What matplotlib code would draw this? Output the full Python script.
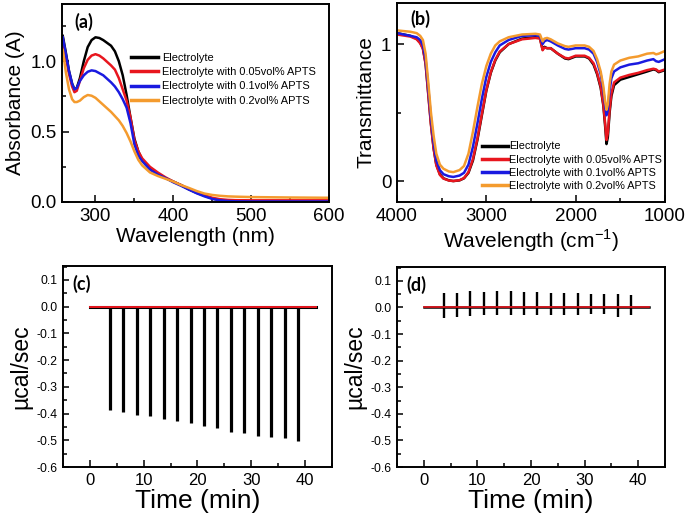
import matplotlib
matplotlib.use("Agg")
import matplotlib.pyplot as plt
from matplotlib.ticker import MultipleLocator, FixedLocator

plt.rcParams['font.family'] = ['Liberation Sans', 'DejaVu Sans']

# ---------------- data ----------------
series_labels = ["Electrolyte", "Electrolyte with 0.05vol% APTS",
                 "Electrolyte with 0.1vol% APTS", "Electrolyte with 0.2vol% APTS"]
series_colors = ["#000000", "#e8161e", "#1a1ae0", "#f49b2e"]

# (a) UV-vis absorbance
wl = [258, 262, 266, 270, 273, 276, 280, 285, 290, 295, 300, 305, 310, 320, 325, 330,
      335, 340, 345, 350, 355, 360, 370, 380, 390, 400, 410, 420, 430, 440, 450, 460,
      470, 480, 500, 550, 600]
abs_black = [1.18, 1.06, 0.93, 0.84, 0.80, 0.81, 0.88, 1.00, 1.10, 1.15, 1.17, 1.165, 1.15,
             1.11, 1.07, 1.00, 0.90, 0.76, 0.60, 0.45, 0.36, 0.30, 0.235, 0.20, 0.17, 0.145,
             0.12, 0.09, 0.065, 0.045, 0.025, 0.012, 0.005, 0.0, 0.0, 0.0, 0.0]
abs_red = [1.15, 1.03, 0.91, 0.82, 0.78, 0.79, 0.86, 0.95, 1.01, 1.04, 1.05, 1.04, 1.02,
           0.97, 0.94, 0.88, 0.80, 0.72, 0.60, 0.44, 0.36, 0.31, 0.25, 0.21, 0.175, 0.145,
           0.12, 0.093, 0.068, 0.047, 0.03, 0.02, 0.015, 0.013, 0.012, 0.012, 0.012]
abs_blue = [1.17, 1.05, 0.93, 0.84, 0.80, 0.81, 0.86, 0.90, 0.925, 0.935, 0.93, 0.915, 0.90,
            0.85, 0.82, 0.78, 0.73, 0.67, 0.56, 0.41, 0.33, 0.29, 0.23, 0.195, 0.17, 0.14,
            0.115, 0.088, 0.062, 0.04, 0.022, 0.012, 0.007, 0.005, 0.004, 0.004, 0.004]
abs_orange = [1.08, 0.92, 0.80, 0.73, 0.71, 0.71, 0.72, 0.745, 0.76, 0.755, 0.74, 0.715, 0.69,
              0.64, 0.61, 0.58, 0.54, 0.49, 0.43, 0.36, 0.30, 0.26, 0.21, 0.185, 0.165, 0.145,
              0.12, 0.10, 0.078, 0.06, 0.05, 0.044, 0.04, 0.038, 0.035, 0.032, 0.03]

# (b) FTIR transmittance
wn = [4000, 3850, 3780, 3740, 3710, 3680, 3650, 3620, 3590, 3560, 3520, 3480, 3420, 3370,
      3300, 3250, 3200, 3150, 3100, 3050, 3000, 2950, 2900, 2850, 2750, 2600, 2450, 2400,
      2370, 2350, 2320, 2280, 2200, 2120, 2080, 2000, 1900, 1850, 1800, 1760, 1720, 1690,
      1670, 1655, 1640, 1620, 1600, 1570, 1500, 1400, 1300, 1200, 1130, 1100, 1070, 1000]
tr_black = [1.08, 1.06, 1.04, 1.01, 0.97, 0.86, 0.64, 0.42, 0.24, 0.12, 0.05, 0.02, 0.005, 0.0,
            0.005, 0.02, 0.06, 0.15, 0.30, 0.48, 0.66, 0.79, 0.88, 0.94, 1.00, 1.04, 1.05, 1.045,
            0.96, 0.98, 0.97, 0.97, 0.93, 0.895, 0.89, 0.91, 0.91, 0.895, 0.85, 0.78, 0.68, 0.55,
            0.40, 0.27, 0.32, 0.50, 0.62, 0.70, 0.74, 0.76, 0.78, 0.80, 0.815, 0.81, 0.795, 0.81]
tr_red = [1.07, 1.055, 1.035, 1.005, 0.965, 0.855, 0.63, 0.41, 0.235, 0.115, 0.045, 0.018, 0.004, 0.0,
          0.006, 0.022, 0.065, 0.16, 0.31, 0.49, 0.665, 0.795, 0.885, 0.945, 1.0, 1.035, 1.045, 1.04,
          0.955, 0.975, 0.97, 0.97, 0.93, 0.9, 0.895, 0.915, 0.915, 0.9, 0.86, 0.79, 0.69, 0.56,
          0.42, 0.30, 0.35, 0.52, 0.64, 0.72, 0.755, 0.775, 0.79, 0.81, 0.82, 0.815, 0.80, 0.815]
tr_blue = [1.08, 1.06, 1.05, 1.03, 0.99, 0.89, 0.68, 0.46, 0.28, 0.15, 0.08, 0.05, 0.035, 0.03,
           0.04, 0.06, 0.12, 0.25, 0.42, 0.60, 0.76, 0.87, 0.94, 0.99, 1.03, 1.06, 1.065, 1.06,
           1.00, 1.02, 1.03, 1.02, 0.99, 0.965, 0.96, 0.97, 0.97, 0.96, 0.93, 0.87, 0.78, 0.66,
           0.55, 0.48, 0.52, 0.66, 0.75, 0.80, 0.83, 0.85, 0.86, 0.88, 0.89, 0.875, 0.87, 0.89]
tr_orange = [1.10, 1.09, 1.08, 1.06, 1.03, 0.93, 0.72, 0.50, 0.33, 0.20, 0.12, 0.09, 0.07, 0.065,
             0.08, 0.11, 0.20, 0.36, 0.54, 0.71, 0.84, 0.93, 0.99, 1.02, 1.05, 1.07, 1.075, 1.07,
             1.02, 1.04, 1.045, 1.035, 1.005, 0.985, 0.98, 0.99, 0.99, 0.98, 0.95, 0.89, 0.80, 0.69,
             0.58, 0.52, 0.56, 0.71, 0.80, 0.85, 0.88, 0.90, 0.91, 0.93, 0.935, 0.925, 0.93, 0.95]

# (c), (d) ITC injections
inj_times = [3.7, 6.2, 8.7, 11.2, 13.7, 16.2, 18.7, 21.2, 23.7, 26.2, 28.7, 31.2, 33.7, 36.2, 38.7]
peaks_c = [-0.385, -0.394, -0.404, -0.410, -0.420, -0.428, -0.437, -0.447, -0.455, -0.468,
           -0.473, -0.484, -0.488, -0.493, -0.502]
tops_d = [0.055, 0.056, 0.062, 0.059, 0.061, 0.061, 0.057, 0.058, 0.056, 0.055, 0.053, 0.052,
          0.049, 0.049, 0.048]
bottoms_d = [-0.040, -0.035, -0.032, -0.030, -0.030, -0.030, -0.030, -0.028, -0.027, -0.027,
             -0.030, -0.025, -0.025, -0.035, -0.030]
baseline_t = [0, 42]
baseline_v = [0, 0]

# ---------------- figure ----------------
W, H = 685, 522
fig = plt.figure(figsize=(W / 100, H / 100), dpi=100)


def ax_px(l, t, r, b):
    return fig.add_axes([l / W, 1 - b / H, (r - l) / W, (b - t) / H])


def style(ax, lab_size):
    for s in ax.spines.values():
        s.set_linewidth(1.4)
    ax.tick_params(which='both', direction='in', top=False, right=False, width=1.1,
                   labelsize=lab_size, pad=4)
    ax.tick_params(which='major', length=5)
    ax.tick_params(which='minor', length=3)


panel_font = dict(family=['Lato', 'DejaVu Sans'], fontweight='bold', fontsize=13)

# (a)
axa = ax_px(62, 3.5, 329, 202)
for y, c, lab in zip([abs_black, abs_red, abs_blue, abs_orange], series_colors, series_labels):
    axa.plot(wl, y, color=c, lw=1.8, label=lab)
axa.set_xlim(257, 600)
axa.set_ylim(0, 1.41)
axa.xaxis.set_major_locator(MultipleLocator(100))
axa.xaxis.set_minor_locator(MultipleLocator(50))
axa.yaxis.set_major_locator(MultipleLocator(0.5))
axa.yaxis.set_minor_locator(MultipleLocator(0.25))
axa.yaxis.set_major_formatter(matplotlib.ticker.FormatStrFormatter('%.1f'))
style(axa, 13.5)
axa.set_xlabel("Wavelength (nm)", fontsize=15, labelpad=2)
axa.set_ylabel("Absorbance (A)", fontsize=15, labelpad=4)
axa.text(0.045, 0.955, "(a)", transform=axa.transAxes, va='top', ha='left', **panel_font)
axa.legend(loc='upper left', bbox_to_anchor=(0.258, 0.75), frameon=False, fontsize=7.9,
           handlelength=2.5, handletextpad=0.35, labelspacing=0.38, borderpad=0, borderaxespad=0)
for lh in axa.get_legend().get_lines():
    lh.set_linewidth(2.5)

# (b)
axb = ax_px(397, 3, 665, 202)
for y, c, lab in zip([tr_black, tr_red, tr_blue, tr_orange], series_colors, series_labels):
    axb.plot(wn, y, color=c, lw=1.8, label=lab)
axb.set_xlim(4000, 1000)
axb.set_ylim(-0.153, 1.30)
axb.xaxis.set_major_locator(MultipleLocator(1000))
axb.xaxis.set_minor_locator(MultipleLocator(500))
axb.yaxis.set_major_locator(FixedLocator([0, 1]))
axb.yaxis.set_minor_locator(FixedLocator([0.5]))
style(axb, 13.5)
axb.set_xlabel("Wavelength (cm$^{\\mathregular{-1}}$)", fontsize=15, labelpad=2)
axb.set_ylabel("Transmittance", fontsize=15, labelpad=4)
axb.text(0.05, 0.965, "(b)", transform=axb.transAxes, va='top', ha='left', **panel_font)
axb.legend(loc='upper left', bbox_to_anchor=(0.317, 0.305), frameon=False, fontsize=7.8,
           handlelength=2.4, handletextpad=0.1, labelspacing=0.3, borderpad=0, borderaxespad=0)
for lh in axb.get_legend().get_lines():
    lh.set_linewidth(2.5)


def itc(ax, label):
    ax.set_xlim(-5, 45)
    ax.set_ylim(-0.6, 0.152)
    ax.xaxis.set_major_locator(MultipleLocator(10))
    ax.xaxis.set_minor_locator(MultipleLocator(5))
    ax.yaxis.set_major_locator(MultipleLocator(0.1))
    ax.yaxis.set_minor_locator(MultipleLocator(0.05))
    ax.yaxis.set_major_formatter(matplotlib.ticker.FormatStrFormatter('%.1f'))
    style(ax, 12)
    ax.tick_params(axis='y', which='both', labelsize=8.8)
    ax.tick_params(axis='y', which='major', length=4)
    ax.set_xlabel("Time (min)", fontsize=19, labelpad=1)
    ax.set_ylabel("µcal/sec", fontsize=16.5, labelpad=3)
    ax.text(0.035, 0.955, label, transform=ax.transAxes, va='top', ha='left', **panel_font)


# (c)
axc = ax_px(63, 266, 332, 467)
axc.vlines(inj_times, peaks_c, 0, color='black', lw=2.3)
axc.plot(baseline_t, baseline_v, color='black', lw=2.2)
axc.plot(baseline_t, baseline_v, color='#e8161e', lw=1.4)
itc(axc, "(c)")

# (d)
axd = ax_px(397, 267, 665, 467)
axd.vlines(inj_times, bottoms_d, tops_d, color='black', lw=1.7)
axd.plot(baseline_t, baseline_v, color='black', lw=1.8)
axd.plot(baseline_t, baseline_v, color='#e8161e', lw=1.2)
itc(axd, "(d)")

fig.savefig("out.png", dpi=100)
